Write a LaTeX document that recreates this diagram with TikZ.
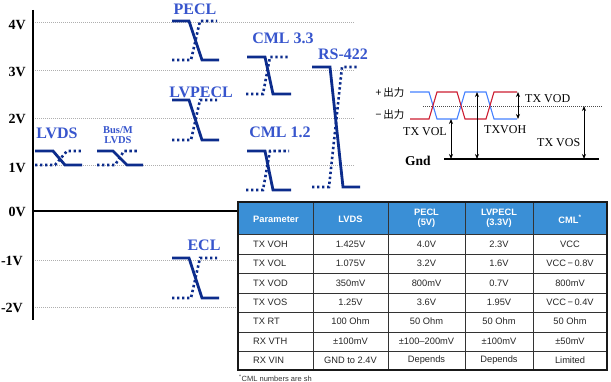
\documentclass[tikz,border=0pt]{standalone}
\usepackage{fontspec}
\setmainfont{Liberation Serif}
\newfontfamily\tabfont{Liberation Sans}
\newfontfamily\cjkfont{Noto Sans CJK JP}
\usetikzlibrary{arrows.meta}
\definecolor{sig}{RGB}{12,44,140}
\definecolor{lbl}{RGB}{55,85,205}
\definecolor{hdr}{RGB}{58,143,214}
\definecolor{wblue}{RGB}{70,130,255}
\definecolor{wred}{RGB}{205,30,50}
\definecolor{gridc}{RGB}{175,175,175}
\begin{document}
\begin{tikzpicture}[x=1pt,y=-1pt,
  gridline/.style={gridc, line width=0.7pt, dash pattern=on 1pt off 1pt},
  solidsig/.style={sig, line width=2.8pt},
  dotsig/.style={sig, line width=2.6pt, dash pattern=on 2.4pt off 2.6pt},
  axislbl/.style={font=\bfseries\fontsize{14}{14}\selectfont, anchor=east, inner sep=0pt},
  siglbl/.style={lbl, font=\bfseries\fontsize{16}{16}\selectfont, inner sep=0pt},
  tcell/.style={font=\tabfont\fontsize{9.3}{10}\selectfont, inner sep=0pt, text=black!85},
  thead/.style={font=\tabfont\bfseries\fontsize{9.3}{10}\selectfont, inner sep=0pt, text=white, align=center},
  tline/.style={black!80, line width=0.8pt},
  dim/.style={black, line width=0.9pt, {Stealth[length=5pt,width=4pt]}-{Stealth[length=5pt,width=4pt]}},
  wlbl/.style={font=\fontsize{12}{12}\selectfont, inner sep=0pt}
]
\useasboundingbox (0,0) rectangle (611,382);
\fill[white] (0,0) rectangle (611,382);

% grid lines
\foreach \yy in {22,70,118,165} \draw[gridline] (33,\yy) -- (355,\yy);
\foreach \yy in {260,307} \draw[gridline] (33,\yy) -- (238,\yy);

% axis
\draw[black, line width=2pt] (33,10) -- (33,320);
\draw[black, line width=2pt] (33,211) -- (238,211);

% axis labels
\node[axislbl] (v4) at (26,25) {4V};
\node[axislbl] (v3) at (26,72) {3V};
\node[axislbl] (v2) at (26,119) {2V};
\node[axislbl] (v1) at (26,168) {1V};
\node[axislbl] (v0) at (26,212) {0V};
\node[axislbl] (vm1) at (23,261) {-1V};
\node[axislbl] (vm2) at (23,308) {-2V};

% LVDS
\draw[solidsig] (35,151) -- (53,151) -- (65,165) -- (82,165);
\draw[dotsig] (35,165) -- (55,165) -- (67,151) -- (81,151);
\node[siglbl] (lvds) at (57,133) {LVDS};

% Bus/M LVDS
\draw[solidsig] (97,151) -- (113,151) -- (127,165) -- (143,165);
\draw[dotsig] (97,165) -- (115,165) -- (124,151) -- (138,151);
\node[lbl, font=\bfseries\fontsize{10.5}{11}\selectfont, align=center, inner sep=0pt] (bus) at (118,135.5) {Bus/M\\[-1pt]LVDS};

% PECL
\draw[solidsig] (172,21) -- (189,21) -- (202,60) -- (219,60);
\draw[dotsig] (172,60) -- (191,60) -- (200,21) -- (217,21);
\node[siglbl] (pecl) at (195,9) {PECL};

% LVPECL
\draw[solidsig] (172,100) -- (189,100) -- (202,140) -- (219,140);
\draw[dotsig] (172,140) -- (191,140) -- (200,100) -- (217,100);
\node[siglbl] (lvpecl) at (201,92) {LVPECL};

% ECL
\draw[solidsig] (172,258) -- (189,258) -- (202,298) -- (219,298);
\draw[dotsig] (172,298) -- (191,298) -- (200,258) -- (217,258);
\node[siglbl] (ecl) at (204,245) {ECL};

% CML 3.3
\draw[solidsig] (247,57) -- (265,57) -- (273,94) -- (291,94);
\draw[dotsig] (246,94) -- (263,94) -- (270,57) -- (289,57);
\node[siglbl] (cml33) at (283,38) {CML 3.3};

% CML 1.2
\draw[solidsig] (247,151) -- (265,151) -- (273,190) -- (291,190);
\draw[dotsig] (246,190) -- (263,190) -- (270,151) -- (289,151);
\node[siglbl] (cml12) at (280,132) {CML 1.2};

% RS-422
\draw[solidsig] (312,67) -- (330,67) -- (343,187) -- (360,187);
\draw[dotsig] (312,187) -- (329,187) -- (342,67) -- (358,67);
\node[siglbl] (rs422) at (343,54) {RS-422};

% differential waveform
\draw[gridline, black!70] (423,106) -- (603,106);
\draw[wblue, line width=1.1pt] (410,92) -- (429,92) -- (437,119) -- (457,119) -- (465,92) -- (486,92) -- (494,119) -- (517,119);
\draw[wred, line width=1.1pt] (410,119) -- (429,119) -- (437,92) -- (457,92) -- (465,119) -- (486,119) -- (494,92) -- (517,92);
\node[font=\cjkfont\fontsize{10.5}{11}\selectfont, inner sep=0pt] (plus) at (390,93) {+\,出力};
\node[font=\cjkfont\fontsize{10.5}{11}\selectfont, inner sep=0pt] (minus) at (390,115) {−\,出力};
\draw[black, line width=1.2pt] (444,159) -- (599,159);
\node[font=\bfseries\fontsize{13.5}{14}\selectfont, inner sep=0pt, anchor=west] (gnd) at (405,161) {Gnd};

\coordinate (volT) at (451,119); \coordinate (volB) at (451,159);
\coordinate (vohT) at (477,92); \coordinate (vohB) at (477,159);
\coordinate (vodT) at (518,92); \coordinate (vodB) at (518,119);
\coordinate (vosT) at (584,106); \coordinate (vosB) at (584,159);
\draw[dim] (volT) -- (volB);
\draw[dim] (vohT) -- (vohB);
\draw[dim] (vodT) -- (vodB);
\draw[dim] (vosT) -- (vosB);
\node[wlbl, anchor=west] (lvod) at (525,99) {TX VOD};
\node[wlbl] (lvol) at (425,132) {TX VOL};
\node[wlbl, anchor=west] (lvoh) at (484,130) {TXVOH};
\node[wlbl, anchor=west] (lvos) at (537,143) {TX VOS};

% table
\fill[hdr] (238,202) rectangle (607,234);
\foreach \yy in {234,254,273,293,312,332,351} \draw[tline] (238,\yy) -- (607,\yy);
\foreach \xx in {313,388,465,533} \draw[tline] (\xx,202) -- (\xx,370);
\draw[black!90, line width=1.6pt] (238,202) rectangle (607,370);

\node[thead, anchor=west] (h0) at (253,219) {Parameter};
\node[thead] (h1) at (350.5,219) {LVDS};
\node[thead] (h2) at (426.5,218) {PECL\\(5V)};
\node[thead] (h3) at (499,218) {LVPECL\\(3.3V)};
\node[thead] (h4) at (570,219) {CML\textsuperscript{*}};

\foreach \p/\a/\b/\c/\d [count=\i] in {
  TX VOH/1.425V/4.0V/2.3V/VCC,
  TX VOL/1.075V/3.2V/1.6V/VCC\,−\,0.8V,
  TX VOD/350mV/800mV/0.7V/800mV,
  TX VOS/1.25V/3.6V/1.95V/VCC\,−\,0.4V,
  TX RT/100 Ohm/50 Ohm/50 Ohm/50 Ohm,
  RX VTH/±100mV/±100–200mV/±100mV/±50mV,
  RX VIN/GND to 2.4V/Depends/Depends/Limited}{
  \pgfmathsetmacro{\ry}{244+(\i-1)*19.4}
  \node[tcell, anchor=west] (p\i) at (253,\ry) {\p};
  \node[tcell] (a\i) at (350.5,\ry) {\a};
  \node[tcell] (b\i) at (426.5,\ry) {\b};
  \node[tcell] (c\i) at (499,\ry) {\c};
  \node[tcell] (d\i) at (570,\ry) {\d};
}
\node[font=\tabfont\fontsize{7.5}{8}\selectfont, inner sep=0pt, anchor=west, text=black!80] (fn) at (239,378) {\textsuperscript{*}CML numbers are sh};
\end{tikzpicture}
\end{document}
